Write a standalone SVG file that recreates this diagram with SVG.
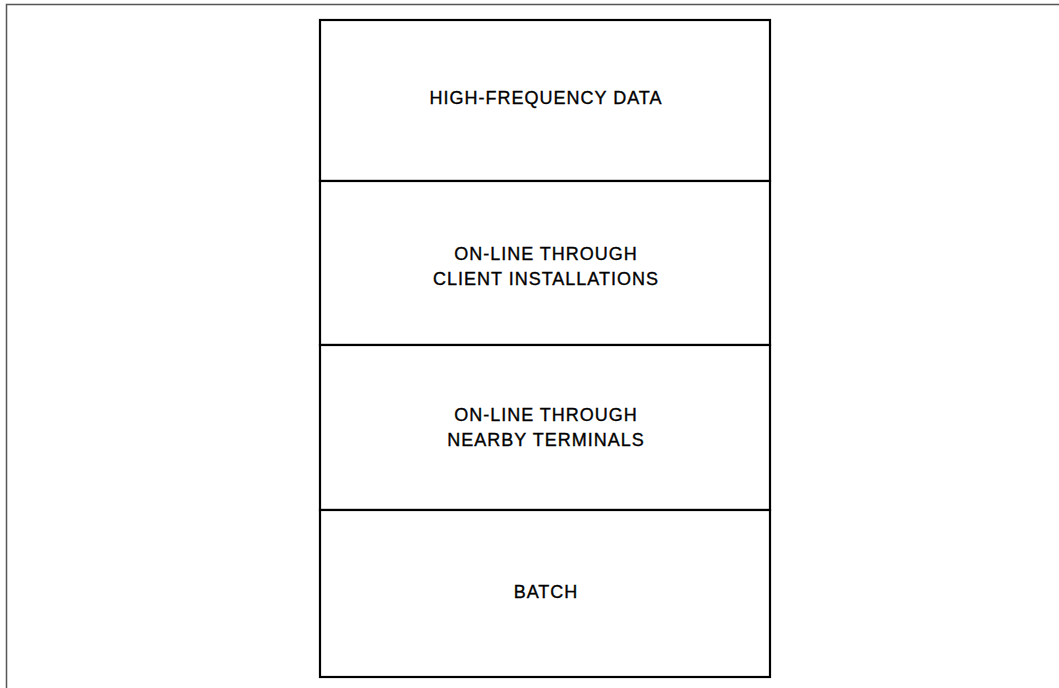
<svg xmlns="http://www.w3.org/2000/svg" width="1059" height="688" viewBox="0 0 1059 688">
<style>
.frame{fill:none;stroke:#555;stroke-width:1.5}
.box{fill:#fff;stroke:#000;stroke-width:2.2}
.lbl{font-family:"Liberation Sans",Arial,sans-serif;font-size:18px;fill:#000;stroke:#000;stroke-width:0.35;text-anchor:middle;letter-spacing:1px}
</style>
<rect width="1059" height="688" fill="#fff"/>
<path class="frame" d="M6.5,690 V4.5 H1060"/>
<g id="high-frequency">
<rect class="box" x="320" y="20" width="450" height="161"/>
<text class="lbl" x="546" y="104">HIGH-FREQUENCY DATA</text>
</g>
<g id="client-installations">
<rect class="box" x="320" y="181" width="450" height="164"/>
<text class="lbl" x="546" y="260">ON-LINE THROUGH</text>
<text class="lbl" x="546" y="285">CLIENT INSTALLATIONS</text>
</g>
<g id="nearby-terminals">
<rect class="box" x="320" y="345" width="450" height="165"/>
<text class="lbl" x="546" y="421">ON-LINE THROUGH</text>
<text class="lbl" x="546" y="446">NEARBY TERMINALS</text>
</g>
<g id="batch">
<rect class="box" x="320" y="510" width="450" height="167"/>
<text class="lbl" x="546" y="598">BATCH</text>
</g>
<g id="connectors"></g>
</svg>
